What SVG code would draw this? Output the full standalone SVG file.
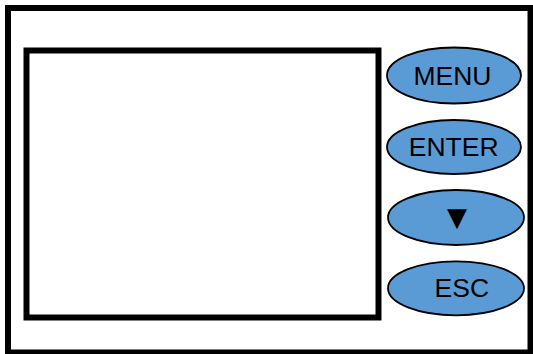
<svg xmlns="http://www.w3.org/2000/svg" width="533" height="354" viewBox="0 0 533 354">
<style>
.frame{fill:#fff;stroke:#000;stroke-width:6}
.btn{fill:#5b9bd5;stroke:#000;stroke-width:1.8}
.lbl{font-family:"Liberation Sans",Arial,sans-serif;font-size:26.5px;fill:#000;text-anchor:middle}
.sym{font-family:"DejaVu Sans",sans-serif;font-size:26px;fill:#000;text-anchor:middle}
</style>
<rect width="533" height="354" fill="#fff"/>
<g id="housing"><rect class="frame" x="8" y="8" width="522.5" height="344.5"/></g>
<g id="screen"><rect class="frame" x="26.5" y="50.5" width="352" height="267"/></g>
<g id="btn-menu"><ellipse class="btn" cx="454" cy="75.5" rx="67" ry="28"/><text class="lbl" x="452.5" y="85">MENU</text></g>
<g id="btn-enter"><ellipse class="btn" cx="454" cy="147" rx="67" ry="27"/><text class="lbl" x="453.7" y="155.7">ENTER</text></g>
<g id="btn-down"><ellipse class="btn" cx="456" cy="217.5" rx="68" ry="27.5"/><text class="sym" x="457" y="226">▼</text></g>
<g id="btn-esc"><ellipse class="btn" cx="456" cy="288.3" rx="68" ry="27"/><text class="lbl" x="461.8" y="296.7">ESC</text></g>
<g id="connectors"/>
</svg>
